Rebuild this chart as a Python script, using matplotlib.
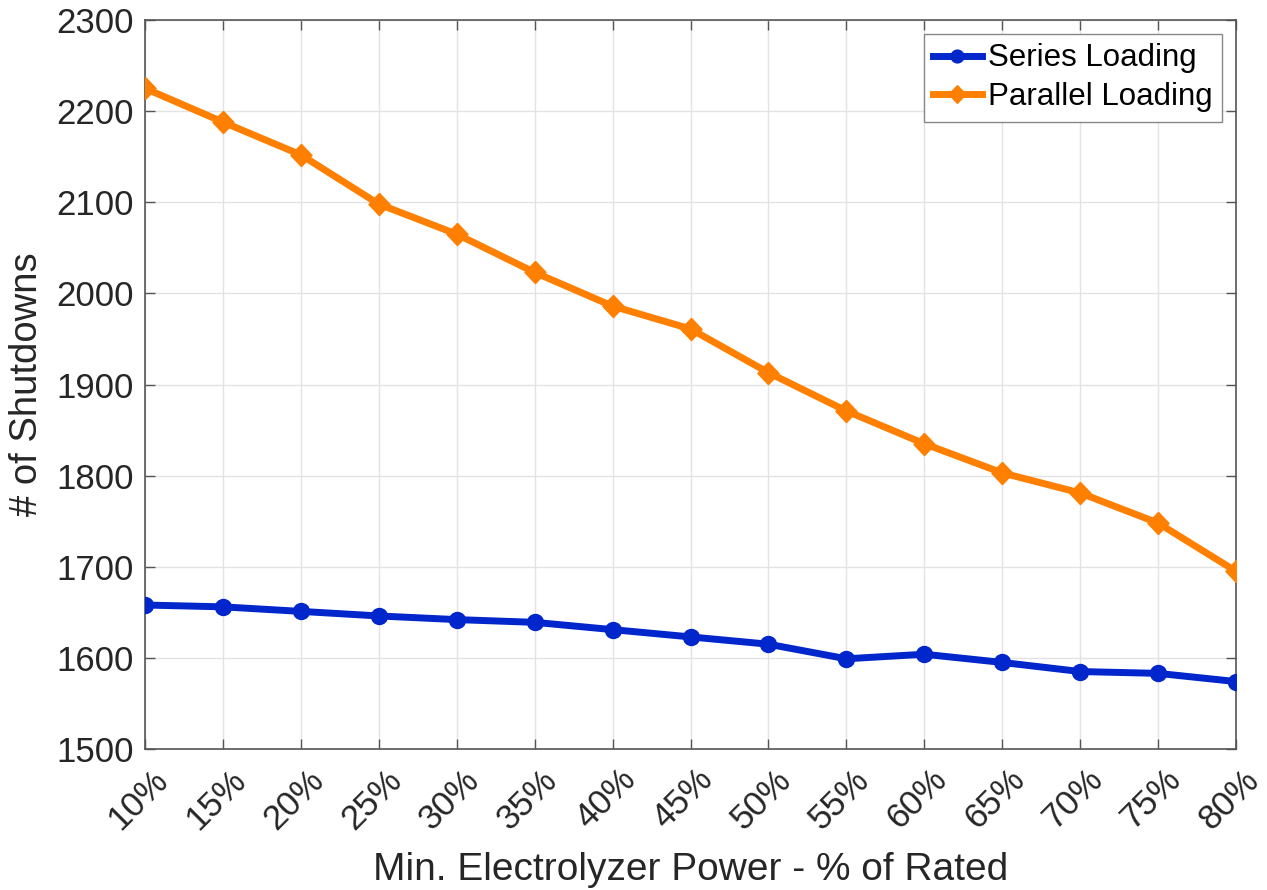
import matplotlib
matplotlib.use("Agg")
import matplotlib.pyplot as plt
from matplotlib.transforms import ScaledTranslation

# Minimum electrolyzer power setpoints (% of rated)
min_power_pct = [10, 15, 20, 25, 30, 35, 40, 45, 50, 55, 60, 65, 70, 75, 80]
tick_labels = [f"{p}%" for p in min_power_pct]

# Number of shutdowns for each loading strategy
series_loading = [1658, 1656, 1651, 1646, 1642, 1639, 1631, 1623, 1615,
                  1599, 1604, 1595, 1585, 1583, 1574]
parallel_loading = [2225, 2188, 2152, 2098, 2065, 2023, 1986, 1961, 1913,
                    1871, 1835, 1803, 1781, 1748, 1695]

plt.rcParams["font.family"] = ["Liberation Sans", "DejaVu Sans"]

# diamond marker
diamond = [(0, 1), (0.95, 0), (0, -1), (-0.95, 0), (0, 1)]

fig = plt.figure(figsize=(12.67, 8.90), dpi=100)
ax = fig.add_axes([145 / 1267, 1 - 749 / 890, (1236 - 145) / 1267, (749 - 20) / 890])

ax.plot(min_power_pct, series_loading, color="#0026CC", lw=5, marker="o",
        ms=11.5, label="Series Loading", zorder=3)
ax.plot(min_power_pct, parallel_loading, color="#FF8000", lw=5, marker=diamond,
        ms=16, label="Parallel Loading", zorder=3)

ax.set_xlim(10, 80)
ax.set_ylim(1500, 2300)
ax.set_xticks(min_power_pct)
ax.set_xticklabels(tick_labels, rotation=45, ha="right", rotation_mode="anchor")
ax.set_yticks(range(1500, 2301, 100))

axis_color = "#262626"
for s in ax.spines.values():
    s.set_color("#555555")
    s.set_linewidth(1.2)
ax.tick_params(axis="both", direction="in", length=7, width=1.0,
               colors="#555555", labelcolor=axis_color, labelsize=25,
               top=True, right=True)
ax.tick_params(axis="y", pad=8)
ax.tick_params(axis="x", pad=10, labelsize=25)
shift = ScaledTranslation(6 / 100, 0, fig.dpi_scale_trans)
for lbl in ax.get_xticklabels():
    lbl.set_transform(lbl.get_transform() + shift)
ax.grid(True, color="#E3E3E3", lw=1.0)
ax.set_axisbelow(True)

ax.set_xlabel("Min. Electrolyzer Power - % of Rated", fontsize=28,
              color=axis_color, labelpad=12)
ax.set_ylabel("# of Shutdowns", fontsize=27.5, color=axis_color, labelpad=8)

leg = ax.legend(loc="upper right", fontsize=22.5, frameon=True, fancybox=False,
                handlelength=1.55, handletextpad=0.2, borderpad=0.3,
                labelspacing=0.28, borderaxespad=0.45, markerscale=0.8)
leg.get_frame().set_edgecolor("#888888")
leg.get_frame().set_linewidth(1.0)
leg.get_frame().set_alpha(1.0)

fig.savefig("out.png", dpi=100, facecolor="white")
